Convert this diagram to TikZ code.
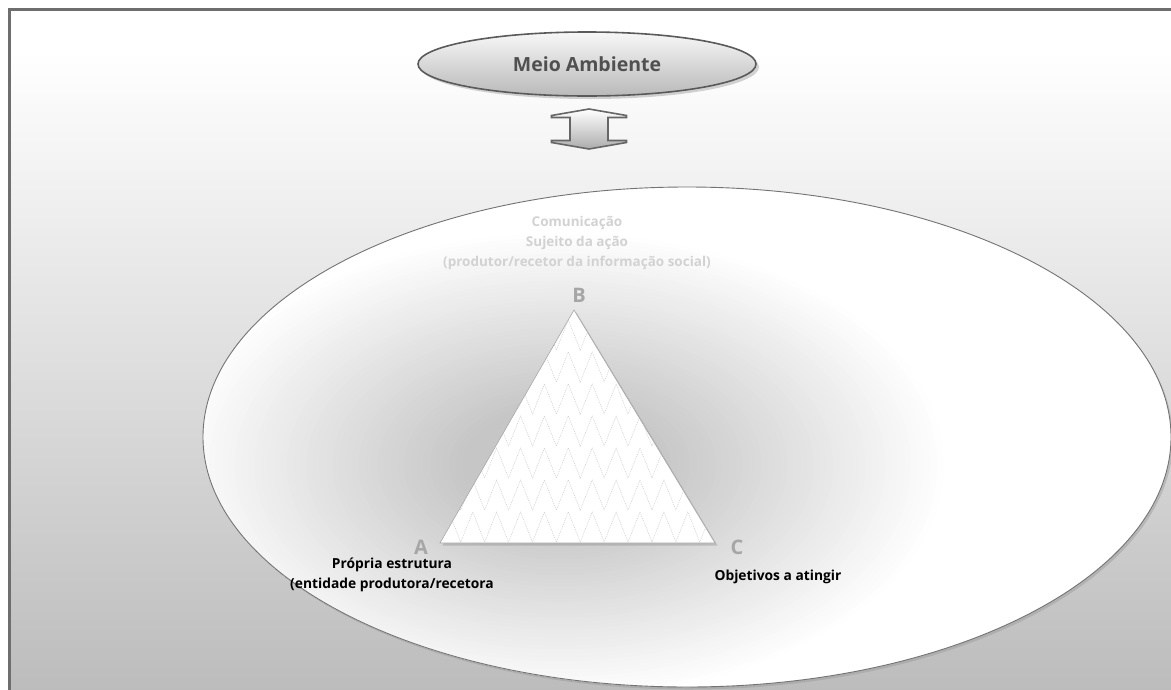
\documentclass[tikz,border=0pt]{standalone}
\usepackage{fontspec}
\setmainfont{Open Sans}
\usetikzlibrary{shadows,shapes.geometric,calc}

\definecolor{framegray}{HTML}{6E6E6E}
\definecolor{bggray}{HTML}{979797}
\definecolor{edgegray}{HTML}{5A5A5A}
\definecolor{lettergray}{HTML}{A6A6A6}
\definecolor{palegray}{HTML}{D2D2D2}
\definecolor{titlegray}{HTML}{505050}
\definecolor{glowgray}{HTML}{C6C6C6}

% page background: white at the top, grey towards the bottom
\pgfdeclareverticalshading{bgshade}{100bp}{%
  color(0bp)=(bggray); color(72bp)=(white); color(100bp)=(white)}

\tikzset{
  envbox/.style={ellipse, draw=edgegray, line width=1.6pt,
    top color=gray!6, bottom color=gray!55,
    minimum width=338pt, minimum height=64pt, inner sep=0pt,
    font=\fontsize{19.5}{22}\selectfont\bfseries, text=titlegray,
    drop shadow={shadow xshift=3pt, shadow yshift=-3pt, opacity=0.35, fill=gray}},
  orgbox/.style={ellipse, fill=white, minimum width=968pt, minimum height=500pt,
    drop shadow={shadow xshift=2pt, shadow yshift=-2.5pt, opacity=0.45, fill=gray!80}},
  orgrim/.style={draw=edgegray!85, line width=0.9pt},
  vertexlabel/.style={font=\fontsize{20}{22}\selectfont\bfseries, text=lettergray},
  caption/.style={font=\fontsize{13.8}{20}\selectfont\bfseries, text=black, align=center},
  paletext/.style={font=\fontsize{13.5}{20}\selectfont\bfseries, text=palegray, align=center},
  zig/.style={gray!45, line width=0.45pt, dash pattern=on 1pt off 1pt},
  flowarrow/.style={draw=gray!120, line width=1.6pt, top color=white, bottom color=gray!65},
}

\begin{document}
\begin{tikzpicture}[x=1pt,y=-1pt]
  \useasboundingbox (0,0) rectangle (1171,689);

  % framed, shaded background
  \shade[shading=bgshade] (9,9) rectangle (1190,700);
  \draw[framegray, line width=3pt] (9,700) -- (9,9) -- (1190,9);

  % environment and organisation
  \node[envbox] (env) at (587,64) {Meio Ambiente};
  \node[orgbox] (org) at (687,437) {};
  % soft grey glow around the triangle, built from nested ellipses
  \begin{scope}
    \clip (org.center) ellipse [x radius=484, y radius=250];
    \coordinate (glow) at (560,465);
    \foreach \i in {0,...,59} {
      \pgfmathsetmacro\f{1-\i/60}
      \pgfmathsetmacro\p{min(100,max(0,(\f-0.25)/0.75*100))}
      \fill[white!\p!glowgray] (glow) ellipse [x radius=390*\f, y radius=235*\f];
    }
  \end{scope}
  \draw[orgrim] (org.center) ellipse [x radius=484, y radius=250];

  % two-way exchange between them
  \coordinate (xc) at (589,129);
  \path[flowarrow]
    ($(xc)+(0,-20)$) -- ($(xc)+(37.5,-13.5)$) -- ($(xc)+(37.5,-11.5)$)
    -- ($(xc)+(19,-11.5)$) -- ($(xc)+(19,11.5)$) -- ($(xc)+(37.5,11.5)$)
    -- ($(xc)+(37.5,13.5)$) -- ($(xc)+(0,20)$) -- ($(xc)+(-37.5,13.5)$)
    -- ($(xc)+(-37.5,11.5)$) -- ($(xc)+(-19,11.5)$) -- ($(xc)+(-19,-11.5)$)
    -- ($(xc)+(-37.5,-11.5)$) -- ($(xc)+(-37.5,-13.5)$) -- cycle;

  % triangle of communication
  \coordinate (A) at (440,543);
  \coordinate (B) at (574,310);
  \coordinate (C) at (715,543);
  \filldraw[fill=white, draw=gray!70, line width=0.6pt,
    drop shadow={shadow xshift=2.5pt, shadow yshift=-2.5pt, opacity=0.35, fill=gray}]
    (A) -- (B) -- (C) -- cycle;
  \begin{scope}
    \clip (A) -- (B) -- (C) -- cycle;
    \foreach \p in {320,352,384,416,448,480,512} {
      \draw[zig] (412.95,\p+30)
        \foreach \i in {0,...,13} { -- ({424.9+23.9*\i},\p) -- ({436.85+23.9*\i},\p+30) };
    }
  \end{scope}

  % vertex letters
  \node[vertexlabel] (lb) at (579,295) {B};
  \node[vertexlabel] (la) at (421,547) {A};
  \node[vertexlabel] (lc) at (737,547) {C};

  % vertex captions
  \node[paletext] (tb) at (577,243) {Comunicação\\Sujeito da ação\\(produtor/recetor da informação social)};
  \node[caption] (ta) at (392,575) {Própria estrutura\\(entidade produtora/recetora};
  \node[caption] (tc) at (778,577) {Objetivos a atingir};
\end{tikzpicture}
\end{document}
